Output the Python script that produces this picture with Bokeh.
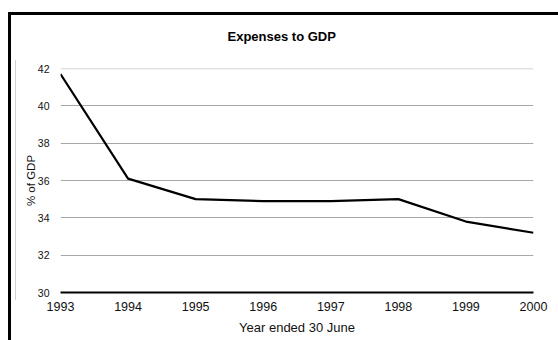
from bokeh.plotting import figure
from bokeh.models import Range1d, FixedTicker, Span, Title
from bokeh.embed import file_html
from bokeh.resources import INLINE

# Expenses as a share of GDP, by financial year ended 30 June
years = [1993, 1994, 1995, 1996, 1997, 1998, 1999, 2000]
expenses_pct_gdp = [41.7, 36.1, 35.0, 34.9, 34.9, 35.0, 33.8, 33.2]
y_ticks = [30, 32, 34, 36, 38, 40, 42]
grid_ticks = [32, 34, 36, 38, 40]

FONT = "Liberation Sans"

p = figure(
    width=558, height=340,
    x_range=Range1d(1993, 2000), y_range=Range1d(30, 42),
    output_backend="svg", toolbar_location=None,
    min_border_left=60, min_border_right=25,
    min_border_top=68, min_border_bottom=48,
    title="Expenses to GDP",
)
p.outline_line_color = None
p.background_fill_color = "white"
p.border_fill_alpha = 0

# chart box edge (left and top strips) and the faint plot-area edge,
# painted as background layers behind the transparent canvas border
p.styles = {
    "background": (
        "linear-gradient(#000, #000) 8px 12px / 3px 340px no-repeat, "
        "linear-gradient(#000, #000) 8px 12px / 560px 3px no-repeat, "
        "linear-gradient(#d2d2d2, #d2d2d2) 15px 60px / 1px 240px no-repeat, "
        "white"
    ),
}

# title, lifted clear of the plot area by an empty spacer row
p.title.text_font = FONT
p.title.text_font_size = "13px"
p.title.text_font_style = "bold"
p.title.text_color = "black"
p.title.align = "left"
p.title.offset = 167
p.title.vertical_align = "bottom"
p.title.standoff = 0
p.add_layout(Title(text=" ", text_font_size="10px", standoff=12), "above")

# x axis
xa = p.xaxis[0]
xa.ticker = FixedTicker(ticks=years)
xa.axis_line_color = "black"
xa.axis_line_width = 2.2
xa.major_tick_line_color = None
xa.minor_tick_line_color = None
xa.major_label_text_font = FONT
xa.major_label_text_font_size = "12.5px"
xa.major_label_text_color = "#111111"
xa.major_label_standoff = 3
xa.axis_label = "Year ended 30 June"
xa.axis_label_text_font = FONT
xa.axis_label_text_font_size = "13px"
xa.axis_label_text_font_style = "normal"
xa.axis_label_text_color = "#111111"
xa.axis_label_standoff = 6

# y axis
ya = p.yaxis[0]
ya.ticker = FixedTicker(ticks=y_ticks)
ya.axis_line_color = None
ya.major_tick_line_color = None
ya.minor_tick_line_color = None
ya.major_label_text_font = FONT
ya.major_label_text_font_size = "10.5px"
ya.major_label_text_color = "#111111"
ya.major_label_standoff = 5
ya.axis_label = "% of GDP"
ya.axis_label_text_font = FONT
ya.axis_label_text_font_size = "11.5px"
ya.axis_label_text_font_style = "normal"
ya.axis_label_text_color = "#111111"
ya.axis_label_standoff = -2

# gridlines
p.xgrid.visible = False
p.ygrid.ticker = FixedTicker(ticks=grid_ticks)
p.ygrid.grid_line_color = "#a8a8a8"
p.ygrid.grid_line_width = 1
p.add_layout(Span(location=42, dimension="width", line_color="#c6c6c6", line_width=1.5))

# series
p.line(years, expenses_pct_gdp, line_color="black", line_width=2.2)

open("out.html", "w").write(file_html(p, INLINE))
